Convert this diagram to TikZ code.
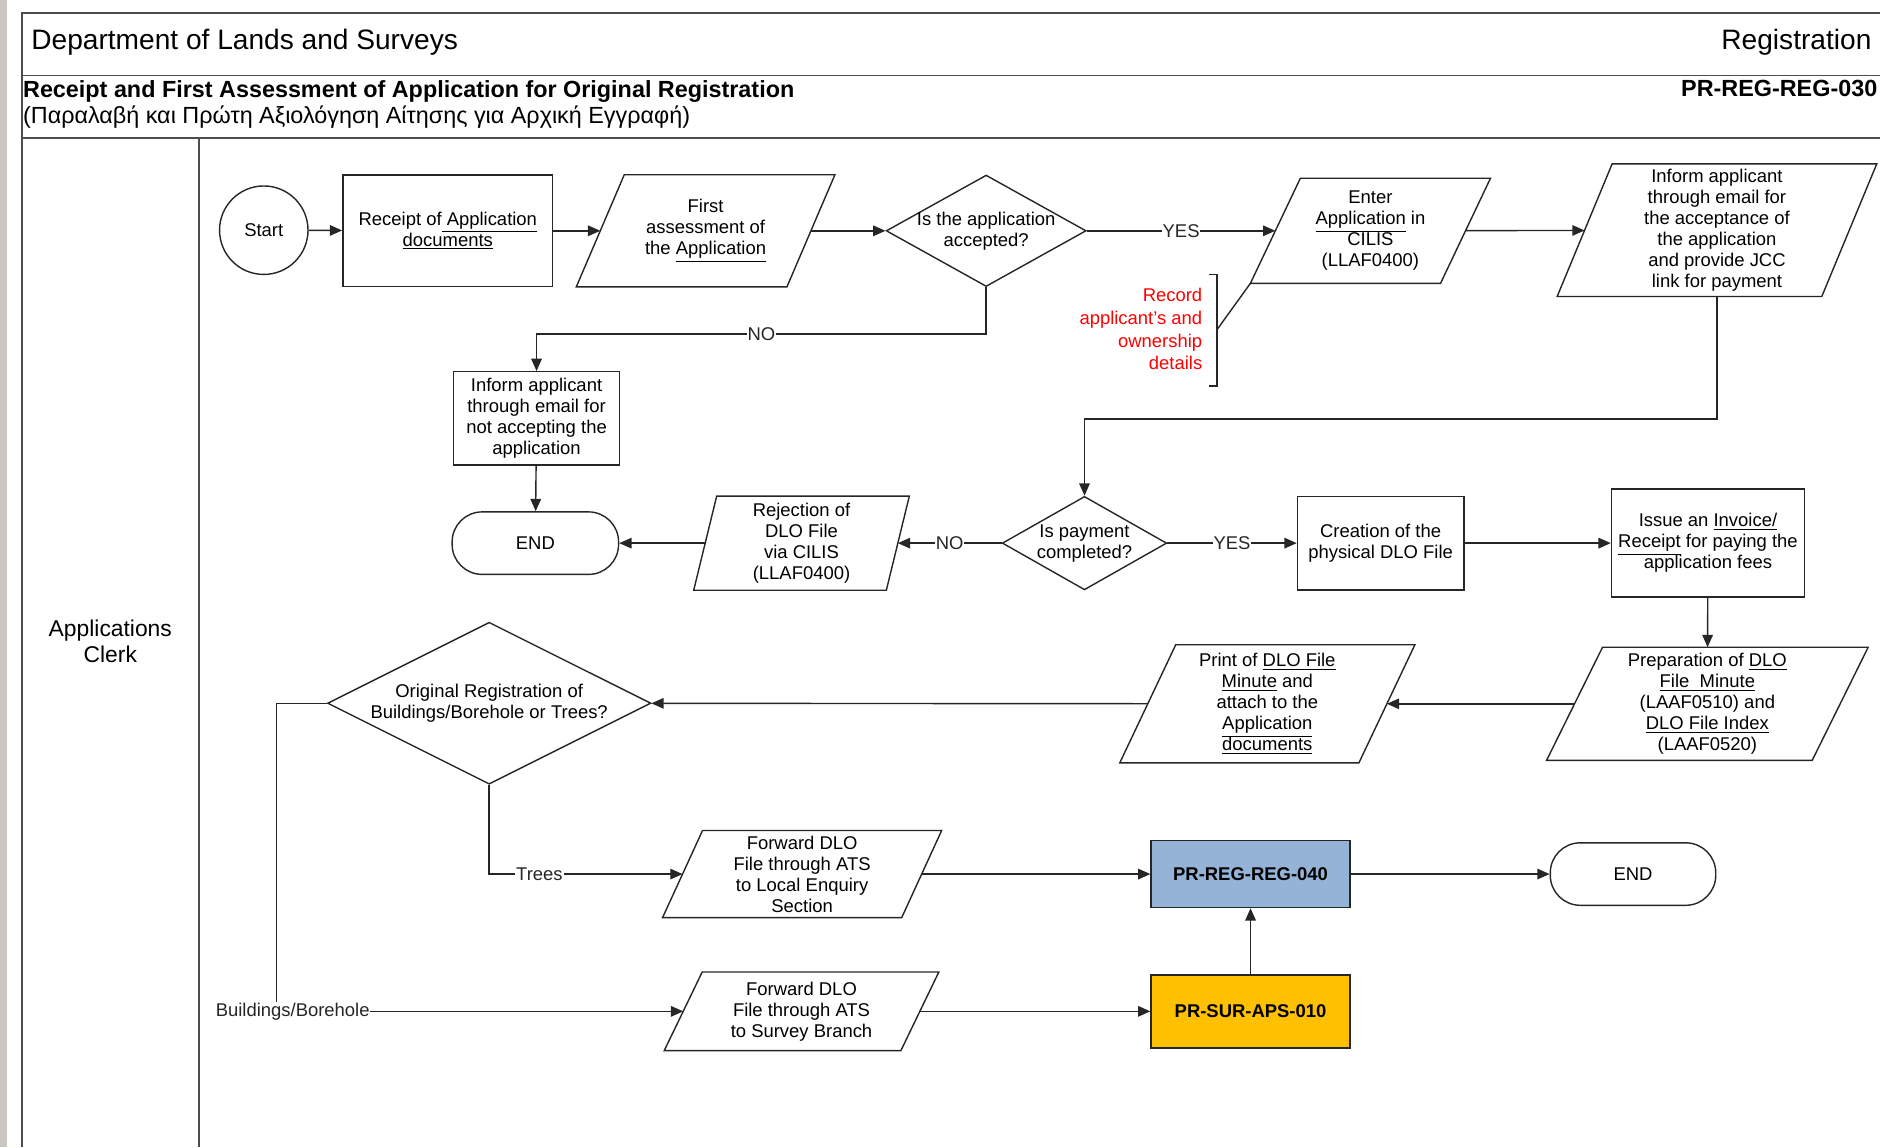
\documentclass[tikz,border=0pt]{standalone}
\usepackage{fontspec}
\setmainfont{Liberation Sans}
\usetikzlibrary{arrows.meta, shapes.geometric}
\definecolor{lanegray}{HTML}{4D4D4D}
\definecolor{linegray}{HTML}{262626}
\definecolor{stripgray}{HTML}{C9C7BF}
\definecolor{notered}{HTML}{FF0000}
\definecolor{subblue}{HTML}{95B3D7}
\definecolor{subamber}{HTML}{FFC000}
\newcommand{\lnk}[1]{\underline{#1}}

\begin{document}
\begin{tikzpicture}[
    x=0.02398cm, y=-0.02398cm,
    font=\fontsize{10.5}{12}\selectfont,
    box/.style={rectangle, draw=linegray, line width=0.8pt,
                align=center, inner sep=1pt},
    para/.style={rectangle, align=center, inner sep=1pt,
                 append after command={\pgfextra{
                   \draw[linegray, line width=0.8pt]
                     ([xshift=#1]\tikzlastnode.north west) -- ([xshift=#1]\tikzlastnode.north east)
                     -- ([xshift=-#1]\tikzlastnode.south east) -- ([xshift=-#1]\tikzlastnode.south west)
                     -- cycle;}}},
    dec/.style={diamond, draw=linegray, line width=0.8pt, align=center, inner sep=-2pt},
    term/.style={rectangle, rounded corners=0.6cm, draw=linegray, line width=0.8pt,
                 minimum width=3.33cm, minimum height=1.25cm},
    sub/.style={box, font=\fontsize{10.5}{12}\selectfont\bfseries, minimum width=3.98cm},
    arr/.style={-{Triangle[length=7pt, width=6pt]}, line width=0.8pt, color=linegray},
    lbl/.style={fill=white, inner sep=0.5pt},
    frame/.style={line width=1.1pt, color=lanegray}
  ]
    \useasboundingbox (0,0) rectangle (1568,957);
    \fill[stripgray] (0,0) rectangle (6,957);
    \draw[frame] (1568,11) -- (18,11) -- (18,957);
    \draw[frame] (18,63) -- (1568,63);
    \draw[frame] (18,115) -- (1568,115);
    \draw[frame] (166,115) -- (166,957);

    \node[anchor=west, font=\fontsize{16}{19}\selectfont] (dept) at (21,35) {Department of Lands and Surveys};
    \node[anchor=east, font=\fontsize{16}{19}\selectfont] (unit) at (1566,35) {Registration};
    \node[anchor=west, inner sep=0pt, font=\fontsize{13.3}{16}\selectfont\bfseries] (ttl) at (19,76)
      {Receipt and First Assessment of Application for Original Registration};
    \node[anchor=west, inner sep=0pt, font=\fontsize{13.3}{16}\selectfont] (ttlgr) at (19,98)
      {(Παραλαβή και Πρώτη Αξιολόγηση Αίτησης για Αρχική Εγγραφή)};
    \node[anchor=east, inner sep=0pt, font=\fontsize{13.3}{16}\selectfont\bfseries] (code) at (1566,74) {PR-REG-REG-030};
    \node[align=center, font=\fontsize{13}{15}\selectfont] (lane) at (92,535) {Applications\\Clerk};

    \node[circle, draw=linegray, line width=0.8pt, minimum size=1.77cm] (start) at (220,192) {Start};
    \node[box, minimum width=4.2cm, minimum height=2.23cm] (rcpt) at (373.5,192.5)
      {Receipt of\lnk{\ Application}\\\lnk{documents}};
    \node[para=0.48cm, minimum width=4.2cm, minimum height=2.23cm] (fa) at (588.5,192.5)
      {First\\assessment of\\the \lnk{Application}};
    \node[dec, aspect=1.8, minimum width=4.0cm, minimum height=2.23cm] (acc) at (822.5,192.5)
      {Is the application\\accepted?};
    \node[para=0.5cm, minimum width=3.79cm, minimum height=2.09cm] (enter) at (1143,192.5)
      {Enter\\\lnk{Application} in\\CILIS\\(LLAF0400)};
    \node[para=0.55cm, minimum width=5.28cm, minimum height=2.64cm] (infacc) at (1432,192)
      {Inform applicant\\through email for\\the acceptance of\\the application\\and provide JCC\\link for payment};
    \node[anchor=east, align=right, inner sep=0pt, text=notered,
          font=\fontsize{10.5}{13}\selectfont] (rec) at (1003,274.5)
      {Record\\applicant’s and\\ownership\\details};
    \draw[line width=0.8pt, color=linegray] (1008,229) -- (1015,229) -- (1015,322) -- (1008,322);
    \coordinate (brk) at (1015,275);
    \draw[line width=0.8pt, color=linegray] (brk) -- ([xshift=-0.5cm]enter.south west);

    \node[box, minimum width=3.33cm, minimum height=1.87cm] (infrej) at (447.5,349)
      {Inform applicant\\through email for\\not accepting the\\application};
    \node[term] (end1) at (446.5,453) {END};
    \node[para=0.23cm, minimum width=3.84cm, minimum height=1.87cm] (rej) at (668.5,453)
      {Rejection of\\DLO File\\via CILIS\\(LLAF0400)};
    \node[dec, aspect=1.75, minimum width=3.29cm, minimum height=1.87cm] (pay) at (904.5,453)
      {Is payment\\completed?};
    \node[box, minimum width=3.33cm, minimum height=1.87cm] (phys) at (1151.5,453)
      {Creation of the\\physical DLO File};
    \node[box, minimum width=3.86cm, minimum height=2.16cm] (inv) at (1424.5,453)
      {Issue an \lnk{Invoice/}\\\lnk{Receipt} for paying the\\application fees};

    \node[para=0.56cm, minimum width=5.3cm, minimum height=2.25cm] (prep) at (1424,587)
      {Preparation of \lnk{DLO}\\\lnk{File\ \ Minute}\\(LAAF0510) and\\\lnk{DLO File Index}\\(LAAF0520)};
    \node[para=0.56cm, minimum width=4.77cm, minimum height=2.35cm] (print) at (1057,587)
      {Print of \lnk{DLO File}\\\lnk{Minute} and\\attach to the\\\lnk{Application}\\\lnk{documents}};
    \node[dec, aspect=2, minimum width=6.47cm, minimum height=3.24cm] (orig) at (408,586.5)
      {Original Registration of\\Buildings/Borehole or Trees?};

    \node[para=0.4cm, minimum width=4.77cm, minimum height=1.73cm] (fwdle) at (669,729)
      {Forward DLO\\File through ATS\\to Local Enquiry\\Section};
    \node[sub, fill=subblue, minimum height=1.34cm] (reg040) at (1043,729) {PR-REG-REG-040};
    \node[term, minimum width=3.31cm] (end2) at (1362,729) {END};
    \node[para=0.38cm, minimum width=4.72cm, minimum height=1.56cm] (fwdsb) at (668.5,843.5)
      {Forward DLO\\File through ATS\\to Survey Branch};
    \node[sub, fill=subamber, minimum height=1.46cm] (aps010) at (1043,843.5) {PR-SUR-APS-010};

    \draw[arr] (start) -- (rcpt);
    \draw[arr] (rcpt) -- (fa);
    \draw[arr] (fa) -- (acc);
    \draw[arr] (acc) -- node[lbl]{YES} (enter);
    \draw[arr] (enter) -- (infacc);
    \draw[arr] (acc.south) -- ++(0,39) -| node[lbl, pos=0.25]{NO} (infrej.north);
    \draw[arr] (infrej) -- (end1);
    \draw[arr] (infacc.south) -- ++(0,102) -| (pay.north);
    \draw[arr] (pay) -- node[lbl]{NO} (rej);
    \draw[arr] (rej) -- (end1);
    \draw[arr] (pay) -- node[lbl]{YES} (phys);
    \draw[arr] (phys) -- (inv);
    \draw[arr] (inv) -- (prep);
    \draw[arr] (prep) -- (print);
    \draw[arr] (print) -- (orig);
    \draw[arr] (orig.south) |- node[lbl, pos=0.63]{Trees} (fwdle);
    \draw[arr] (orig.west) -- ++(-42,0) |- node[lbl, pos=0.52]{Buildings/Borehole} (fwdsb);
    \draw[arr] (fwdle) -- (reg040);
    \draw[arr] (reg040) -- (end2);
    \draw[arr] (fwdsb) -- (aps010);
    \draw[arr] (aps010) -- (reg040);
  \end{tikzpicture}
\end{document}
